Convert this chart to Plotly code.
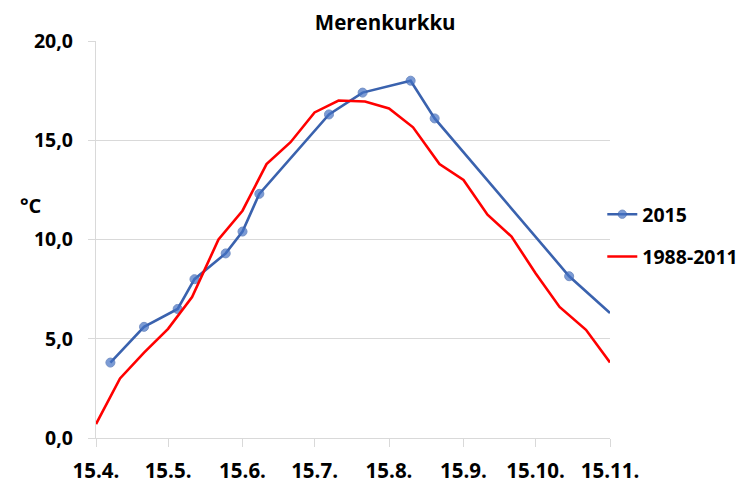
import plotly.graph_objects as go

# 2015 observations (date, °C)
dates_2015 = ["2015-04-21", "2015-05-05", "2015-05-19", "2015-05-26", "2015-06-08",
              "2015-06-15", "2015-06-22", "2015-07-21", "2015-08-04", "2015-08-24",
              "2015-09-03", "2015-10-29", "2015-11-15"]
temp_2015 = [3.8, 5.6, 6.5, 8.0, 9.3, 10.4, 12.3, 16.3, 17.4, 18.0, 16.1, 8.15, 6.3]
marker_2015 = [9] * 12 + [0]

# 1988-2011 mean, ten-day values
dates_ref = ["2015-04-15", "2015-04-25", "2015-05-05", "2015-05-15", "2015-05-25",
             "2015-06-05", "2015-06-15", "2015-06-25", "2015-07-05", "2015-07-15",
             "2015-07-25", "2015-08-05", "2015-08-15", "2015-08-25", "2015-09-05",
             "2015-09-15", "2015-09-25", "2015-10-05", "2015-10-15", "2015-10-25",
             "2015-11-05", "2015-11-15"]
temp_ref = [0.7, 3.0, 4.3, 5.5, 7.1, 10.0, 11.45, 13.8, 14.9, 16.4, 17.0, 16.95,
            16.6, 15.65, 13.8, 13.0, 11.25, 10.15, 8.3, 6.6, 5.45, 3.8]

tick_dates = ["2015-04-15", "2015-05-15", "2015-06-15", "2015-07-15",
              "2015-08-15", "2015-09-15", "2015-10-15", "2015-11-15"]
tick_labels = ["15.4.", "15.5.", "15.6.", "15.7.", "15.8.", "15.9.", "15.10.", "15.11."]

FONT = "'Open Sans', Lato, 'DejaVu Sans', sans-serif"
GRID = "#d9d9d9"

fig = go.Figure()
fig.add_trace(go.Scatter(
    x=dates_2015, y=temp_2015, name="2015", mode="lines+markers",
    line=dict(color="#3A62AE", width=2.6),
    marker=dict(color="#4472C4", size=marker_2015),
    legendgroup="a",
))
fig.add_trace(go.Scatter(
    x=dates_ref, y=temp_ref, name="1988-2011", mode="lines",
    line=dict(color="#FF0000", width=2.6),
    legendgroup="b",
))

# the page body has an 8px default margin, so the figure is 8px smaller
fig.update_layout(
    width=747, height=475,
    margin=dict(l=88, r=137, t=33, b=45),
    paper_bgcolor="white", plot_bgcolor="white",
    separators=", ",
    font=dict(family=FONT, size=18, color="#000000", weight="bold"),
    title=dict(text="Merenkurkku", x=0.505, xanchor="center", y=0.968, yanchor="middle",
               font=dict(family=FONT, size=20.5, weight="bold", color="#000000")),
    showlegend=True,
    legend=dict(x=0.985, xanchor="left", y=0.51, yanchor="middle",
                tracegroupgap=14, font=dict(size=19.5, weight="bold"),
                bgcolor="rgba(0,0,0,0)", itemwidth=30),
    xaxis=dict(type="date", range=["2015-04-15", "2015-11-15"],
               tickmode="array", tickvals=tick_dates, ticktext=tick_labels,
               showgrid=False, showline=True, linecolor=GRID, linewidth=1.3,
               ticks="outside", ticklen=8, tickcolor=GRID, tickwidth=1.3,
               zeroline=False, ticklabelstandoff=6, automargin=False,
               tickfont=dict(size=20.5, weight="bold")),
    yaxis=dict(range=[0, 20], dtick=5, tickformat=".1f",
               showgrid=True, gridcolor=GRID, gridwidth=1.3,
               showline=True, linecolor=GRID, linewidth=1.3,
               ticks="outside", ticklen=7, tickcolor=GRID, tickwidth=1.3,
               zeroline=False, ticklabelstandoff=11, automargin=False,
               tickfont=dict(size=19.5, weight="bold")),
    annotations=[dict(text="°C", xref="paper", yref="paper",
                      x=-0.127, y=0.585, xanchor="center", yanchor="middle",
                      showarrow=False, font=dict(size=20, weight="bold"))],
)

fig.write_html("out.html")
